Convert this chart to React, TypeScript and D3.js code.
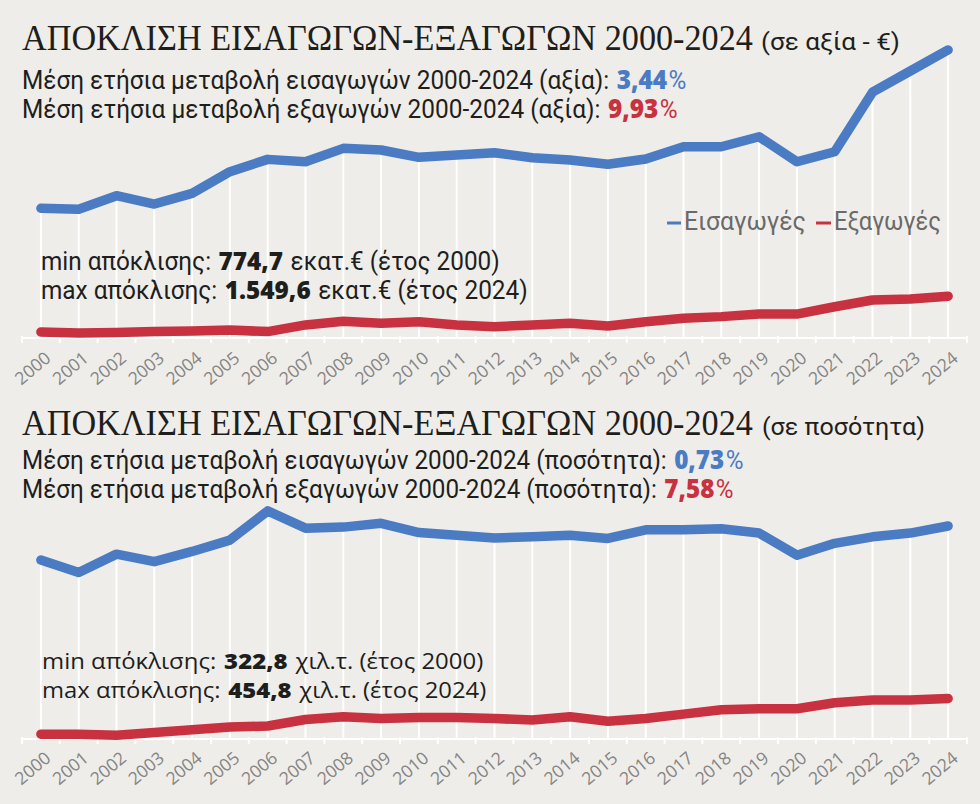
import React, { useLayoutEffect, useRef, useState } from "react";
import * as d3 from "d3";

const years = ["2000","2001","2002","2003","2004","2005","2006","2007","2008","2009","2010","2011","2012","2013","2014","2015","2016","2017","2018","2019","2020","2021","2022","2023","2024"];

// Chart 1: value (million €)
const importsValue = [813, 807, 892, 840, 907, 1043, 1120, 1105, 1189, 1179, 1133, 1147, 1162, 1130, 1116, 1089, 1122, 1199, 1199, 1262, 1105, 1168, 1541, 1674, 1806];
const exportsValue = [38, 31, 34, 40, 44, 50, 40, 82, 105, 92, 102, 82, 71, 82, 92, 75, 102, 124, 134, 150, 150, 196, 238, 245, 262];

// Chart 2: quantity (thousand tonnes)
const importsQty = [331, 308, 342, 328, 347, 368, 422, 390, 392, 399, 382, 377, 372, 374, 377, 371, 387, 387, 389, 381, 340, 362, 374, 381, 394];
const exportsQty = [9, 9, 7, 12, 17, 22, 24, 36, 41, 38, 40, 40, 38, 35, 41, 33, 38, 46, 54, 56, 56, 67, 72, 72, 75];

const BLUE = "#4a7bc3";
const RED = "#c8313f";
const BG = "#efede9";
const INK = "#1e1e1c";
const SANS = "Roboto, 'Noto Sans', sans-serif";
const SERIF = "'Liberation Serif', 'DejaVu Serif', serif";
const OPEN = "'Open Sans', 'Noto Sans', sans-serif";

type Part = { t: string; weight?: number; fill?: string; family?: string };
type LineProps = { x: number; y: number; w: number; size: number; family?: string; fill?: string; parts: Part[] };

// Text fitted to a target width by a horizontal scale (condensed look)
const FitText = ({ x, y, w, size, family = SANS, fill = INK, parts }: LineProps) => {
  const ref = useRef<SVGTextElement>(null);
  const [sx, setSx] = useState(1);
  useLayoutEffect(() => {
    if (ref.current) {
      const nat = ref.current.getComputedTextLength();
      if (nat > 0) setSx(w / nat);
    }
  }, [w]);
  return (
    <g transform={`translate(${x},${y}) scale(${sx},1)`}>
      <text ref={ref} x={0} y={0} fontSize={size} fill={fill} fontFamily={family} style={{ whiteSpace: "pre" }}>
        {parts.map((p, i) => (
          <tspan key={i} dx={i > 0 ? 1.5 : 0} fontWeight={p.weight ?? 400} fill={p.fill ?? fill} fontFamily={p.family ?? family}>{p.t}</tspan>
        ))}
      </text>
    </g>
  );
};

const x = d3.scaleBand<string>().domain(years).range([22, 967]).padding(0);
const cx = (yr: string) => (x(yr) as number) + x.bandwidth() / 2;

type PanelProps = { imports: number[]; exports: number[]; y: d3.ScaleLinear<number, number>; axisY: number; labelDy: number };

const Panel = ({ imports, exports, y, axisY, labelDy }: PanelProps) => {
  const line = d3.line<number>().x((_, i) => cx(years[i])).y((d) => y(d)).curve(d3.curveLinear);
  const edges = years.map((yr) => x(yr) as number).concat([x.range()[1]]);
  return (
    <g>
      {years.map((yr, i) => (
        <line key={"g" + yr} x1={cx(yr)} x2={cx(yr)} y1={y(Math.max(imports[i], exports[i]))} y2={axisY} stroke="#ffffff" strokeWidth={2} />
      ))}
      <line x1={x.range()[0]} x2={x.range()[1]} y1={axisY} y2={axisY} stroke="#ffffff" strokeWidth={2} />
      {edges.map((ex, i) => (
        <line key={"t" + i} x1={ex} x2={ex} y1={axisY - 2} y2={axisY + 5} stroke="#ffffff" strokeWidth={2} />
      ))}
      {years.map((yr) => (
        <text key={"l" + yr} transform={`translate(${cx(yr) + 11},${axisY + labelDy}) rotate(-40)`} textAnchor="end" fontSize={17.5} fill="#858585" fontFamily={OPEN}>
          {yr}
        </text>
      ))}
      <path d={line(exports) as string} fill="none" stroke={RED} strokeWidth={9.5} strokeLinecap="round" strokeLinejoin="round" />
      <path d={line(imports) as string} fill="none" stroke={BLUE} strokeWidth={9.5} strokeLinecap="round" strokeLinejoin="round" />
    </g>
  );
};

export default function App() {
  const y1 = d3.scaleLinear().domain([0, 1800]).range([338, 338 - 1800 / 6.27]);
  const y2 = d3.scaleLinear().domain([0, 400]).range([739, 739 - 400 / 1.85]);
  return (
    <svg width={980} height={804} style={{ display: "block", position: "absolute", left: 0, top: 0 }}>
      <rect x={0} y={0} width={980} height={804} fill={BG} />

      <Panel imports={importsValue} exports={exportsValue} y={y1} axisY={338} labelDy={22} />
      <Panel imports={importsQty} exports={exportsQty} y={y2} axisY={739} labelDy={21} />

      {/* Chart 1 header */}
      <FitText x={22} y={50} w={731} size={36} family={SERIF} parts={[{ t: "ΑΠΟΚΛΙΣΗ ΕΙΣΑΓΩΓΩΝ-ΕΞΑΓΩΓΩΝ 2000-2024" }]} />
      <FitText x={761} y={50} w={139} size={24} parts={[{ t: "(σε αξία - €)" }]} />
      <FitText x={22} y={89} w={662} size={26} parts={[
        { t: "Μέση ετήσια μεταβολή εισαγωγών 2000-2024 (αξία): " },
        { t: "3,44", weight: 800, fill: BLUE, family: OPEN },
        { t: "%", fill: BLUE },
      ]} />
      <FitText x={22} y={118} w={653} size={26} parts={[
        { t: "Μέση ετήσια μεταβολή εξαγωγών 2000-2024 (αξία): " },
        { t: "9,93", weight: 800, fill: RED, family: OPEN },
        { t: "%", fill: RED },
      ]} />

      {/* Legend */}
      <line x1={667} x2={681} y1={223} y2={223} stroke={BLUE} strokeWidth={3} />
      <FitText x={684} y={230} w={122} size={26} fill="#6a6a6a" parts={[{ t: "Εισαγωγές" }]} />
      <line x1={816} x2={831} y1={223} y2={223} stroke={RED} strokeWidth={3} />
      <FitText x={834} y={230} w={107} size={26} fill="#6a6a6a" parts={[{ t: "Εξαγωγές" }]} />

      {/* Chart 1 annotations */}
      <FitText x={41} y={270} w={456} size={25} parts={[
        { t: "min απόκλισης: " },
        { t: "774,7", weight: 800, family: OPEN },
        { t: " εκατ.€ (έτος 2000)" },
      ]} />
      <FitText x={41} y={299} w={484} size={25} parts={[
        { t: "max απόκλισης: " },
        { t: "1.549,6", weight: 800, family: OPEN },
        { t: " εκατ.€ (έτος 2024)" },
      ]} />

      {/* Chart 2 header */}
      <FitText x={22} y={435} w={731} size={36} family={SERIF} parts={[{ t: "ΑΠΟΚΛΙΣΗ ΕΙΣΑΓΩΓΩΝ-ΕΞΑΓΩΓΩΝ 2000-2024" }]} />
      <FitText x={762} y={435} w={163} size={24} parts={[{ t: "(σε ποσότητα)" }]} />
      <FitText x={22} y={469} w={719} size={26} parts={[
        { t: "Μέση ετήσια μεταβολή εισαγωγών 2000-2024 (ποσότητα): " },
        { t: "0,73", weight: 800, fill: BLUE, family: OPEN },
        { t: "%", fill: BLUE },
      ]} />
      <FitText x={22} y={498} w={709} size={26} parts={[
        { t: "Μέση ετήσια μεταβολή εξαγωγών 2000-2024 (ποσότητα): " },
        { t: "7,58", weight: 800, fill: RED, family: OPEN },
        { t: "%", fill: RED },
      ]} />

      {/* Chart 2 annotations */}
      <FitText x={42} y={669} w={438} size={21} family={OPEN} parts={[
        { t: "min απόκλισης: " },
        { t: "322,8", weight: 800 },
        { t: " χιλ.τ. (έτος 2000)" },
      ]} />
      <FitText x={42} y={698} w={441} size={21} family={OPEN} parts={[
        { t: "max απόκλισης: " },
        { t: "454,8", weight: 800 },
        { t: " χιλ.τ. (έτος 2024)" },
      ]} />
    </svg>
  );
}
